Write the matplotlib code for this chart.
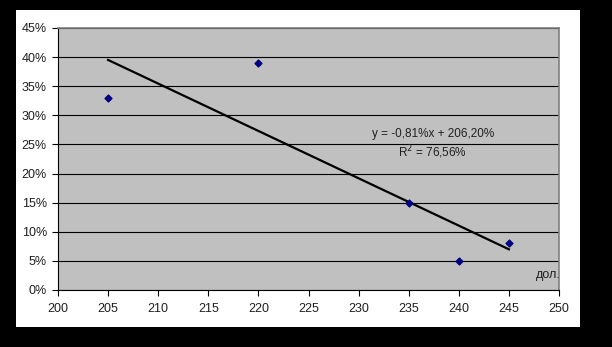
import numpy as np
import matplotlib
matplotlib.use("Agg")
import matplotlib.pyplot as plt
from matplotlib.patches import Rectangle
from matplotlib.ticker import FuncFormatter, MultipleLocator

plt.rcParams['font.family'] = ['Liberation Sans', 'DejaVu Sans']

price = [205, 220, 235, 240, 245]
share = [0.33, 0.39, 0.15, 0.05, 0.08]

# linear trend
k, b = np.polyfit(price, share, 1)
pred = np.polyval([k, b], price)
r2 = 1 - np.sum((np.array(share) - pred) ** 2) / np.sum((np.array(share) - np.mean(share)) ** 2)

W, H = 612, 347
fig = plt.figure(figsize=(W / 100, H / 100), dpi=100)
fig.patch.set_facecolor('black')
fig.add_artist(Rectangle((16 / W, 1 - 327 / H), 564 / W, 317 / H,
                         transform=fig.transFigure, facecolor='white',
                         edgecolor='none', zorder=-10))

ax = fig.add_axes([58 / W, 57 / H, 501 / W, 262 / H])
ax.set_zorder(1)
ax.set_facecolor('#c0c0c0')
ax.set_xlim(200, 250)
ax.set_ylim(0, 0.45)
ax.xaxis.set_major_locator(MultipleLocator(5))
ax.yaxis.set_major_locator(MultipleLocator(0.05))
ax.yaxis.set_major_formatter(FuncFormatter(lambda v, p: f"{v * 100:.0f}%"))
ax.grid(axis='y', color='black', linewidth=0.8)
ax.set_axisbelow(True)

for s in ['top', 'right']:
    ax.spines[s].set_color('#808080')
    ax.spines[s].set_linewidth(1.2)
for s in ['left', 'bottom']:
    ax.spines[s].set_color('black')
    ax.spines[s].set_linewidth(0.8)
ax.tick_params(labelsize=9, length=4, width=0.8, color='black', pad=4,
               labelcolor='#202020')
ax.tick_params(axis='x', pad=5)

xs = np.array([price[0], price[-1]])
ax.plot(xs, k * xs + b, color='black', linewidth=1.6, zorder=3)
ax.scatter(price, share, marker='D', s=12, color='#000080', zorder=4)

eq = f"y = {k * 100:.2f}%x + {b * 100:.2f}%".replace('.', ',')
ax.text(237.4, 0.268, eq, ha='center', va='center', fontsize=8.5, color='#202020')
ax.text(237.4, 0.237, "R$^2$ = " + f"{r2 * 100:.2f}%".replace('.', ','),
        ha='center', va='center', fontsize=8.5, color='#202020')
ax.text(250.2, 0.026, "дол.", ha='right', va='center', fontsize=9,
        color='#202020', clip_on=False)

fig.savefig('out.png', dpi=100, facecolor=fig.get_facecolor())
